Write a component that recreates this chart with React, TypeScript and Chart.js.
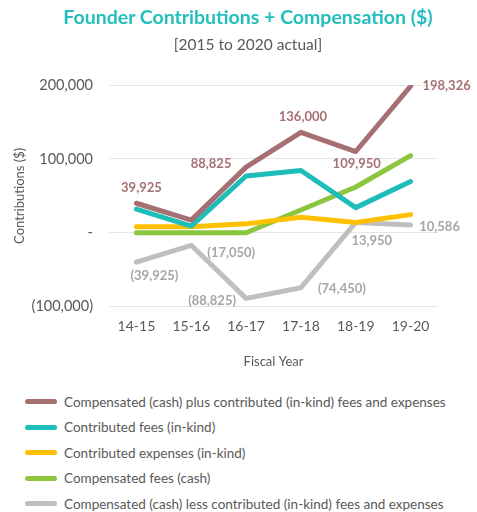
import React, { useEffect, useRef } from 'react';
import { Chart, registerables } from 'chart.js';

Chart.register(...registerables);

const FONT = 'Lato, "Open Sans", sans-serif';

const titleText = 'Founder Contributions + Compensation ($)';
const subtitleText = '[2015 to 2020 actual]';
const categories = ['14-15', '15-16', '16-17', '17-18', '18-19', '19-20'];
const seriesNames = [
  'Compensated (cash) plus contributed (in-kind) fees and expenses',
  'Contributed fees (in-kind)',
  'Contributed expenses (in-kind)',
  'Compensated fees (cash)',
  'Compensated (cash) less contributed (in-kind) fees and expenses',
];
const totalPlus = [39925, 17050, 88825, 136000, 109950, 198326];
const feesInKind = [31925, 9050, 76825, 84225, 34000, 69370];
const expensesInKind = [8000, 8000, 12000, 21000, 14000, 24500];
const feesCash = [0, 0, 0, 30775, 61950, 104456];
const totalLess = [-39925, -17050, -88825, -74450, 13950, 10586];
const yTicks = [-100000, 0, 100000, 200000];

const colors = ['#A66F72', '#1FBDBA', '#FFC000', '#8CC63F', '#BFBFBF'];

// label offsets (style only): [dx, dy] from point, null = no label
const labelSpecs = [
  { dataset: 0, color: '#A66F72', offsets: [[5, -15], null, [-35, -3], [2, -15], [1, 12], [36, 0]] },
  { dataset: 4, color: '#A6A6A6', offsets: [[18, 14], [40, 7], [-34, 2], [41, 1], [16, 18], [29, 2]] },
];

const fmt = (v: number) => {
  if (v === 0) return '-';
  const s = Math.abs(v).toLocaleString('en-US');
  return v < 0 ? `(${s})` : s;
};

const labelPlugin = {
  id: 'pointLabels',
  afterDatasetsDraw(chart: any) {
    const ctx = chart.ctx;
    ctx.save();
    ctx.font = `bold 13px ${FONT}`;
    ctx.textAlign = 'center';
    ctx.textBaseline = 'middle';
    labelSpecs.forEach((spec) => {
      const meta = chart.getDatasetMeta(spec.dataset);
      const ds = chart.data.datasets[spec.dataset];
      spec.offsets.forEach((off, i) => {
        if (!off) return;
        const pt = meta.data[i];
        ctx.fillStyle = spec.color;
        ctx.fillText(fmt(ds.data[i] as number), pt.x + off[0], pt.y + off[1]);
      });
    });
    ctx.restore();
  },
};

export default function App() {
  const ref = useRef<HTMLCanvasElement>(null);
  useEffect(() => {
    if (!ref.current) return;
    const data = [totalPlus, feesInKind, expensesInKind, feesCash, totalLess];
    const chart = new Chart(ref.current, {
      type: 'line',
      data: {
        labels: categories,
        datasets: data.map((d, i) => ({
          label: seriesNames[i],
          data: d,
          borderColor: colors[i],
          backgroundColor: colors[i],
          borderWidth: 5,
          pointRadius: 0,
          tension: 0,
          borderCapStyle: 'round' as const,
          borderJoinStyle: 'round' as const,
          order: i,
        })),
      },
      options: {
        responsive: false,
        animation: false,
        layout: { padding: { left: 8, right: 39, top: 85, bottom: 0 } },
        plugins: {
          legend: { display: false },
          tooltip: { enabled: false },
        },
        scales: {
          x: {
            offset: true,
            grid: { display: false },
            border: { display: false },
            ticks: { color: '#595959', font: { family: FONT, size: 14 }, padding: 3 },
            title: {
              display: true,
              text: 'Fiscal Year',
              color: '#595959',
              font: { family: FONT, size: 13 },
              padding: { top: 17 },
            },
          },
          y: {
            min: -100000,
            max: 200000,
            afterBuildTicks: (axis: any) => {
              axis.ticks = yTicks.map((v) => ({ value: v }));
            },
            afterFit: (axis: any) => {
              axis.width = 101;
            },
            grid: { color: '#E6E6E6', lineWidth: 1, drawTicks: false },
            border: { display: false },
            ticks: {
              color: '#595959',
              font: { family: FONT, size: 14.5 },
              padding: 16,
              callback: (v: any) => fmt(Number(v)),
            },
            title: {
              display: true,
              text: 'Contributions ($)',
              color: '#595959',
              font: { family: FONT, size: 13 },
              padding: { top: 4, bottom: 4 },
            },
          },
        },
      },
      plugins: [labelPlugin],
    });
    return () => chart.destroy();
  }, []);

  return (
    <div style={{ position: 'absolute', left: 0, top: 0, width: 477, height: 512, background: '#fff' }}>
      <canvas ref={ref} width={477} height={374} style={{ display: 'block' }} />
      <div style={{ position: 'absolute', left: 20, width: 456, top: 5, textAlign: 'center', fontFamily: FONT, fontWeight: 'bold', fontSize: 19.5, color: '#22BFBD', lineHeight: '24px' }}>
        {titleText}
      </div>
      <div style={{ position: 'absolute', left: 20, width: 456, top: 34, textAlign: 'center', fontFamily: FONT, fontSize: 15.5, color: '#595959', lineHeight: '20px' }}>
        {subtitleText}
      </div>
      <div style={{ position: 'absolute', left: 25, top: 389, fontFamily: FONT, fontSize: 13.5, color: '#595959' }}>
        {seriesNames.map((n, i) => (
          <div key={n} style={{ display: 'flex', alignItems: 'center', height: 25.5, whiteSpace: 'nowrap' }}>
            <span style={{ display: 'inline-block', width: 32, height: 5, borderRadius: 3, background: colors[i], marginRight: 7 }} />
            <span>{n}</span>
          </div>
        ))}
      </div>
    </div>
  );
}
